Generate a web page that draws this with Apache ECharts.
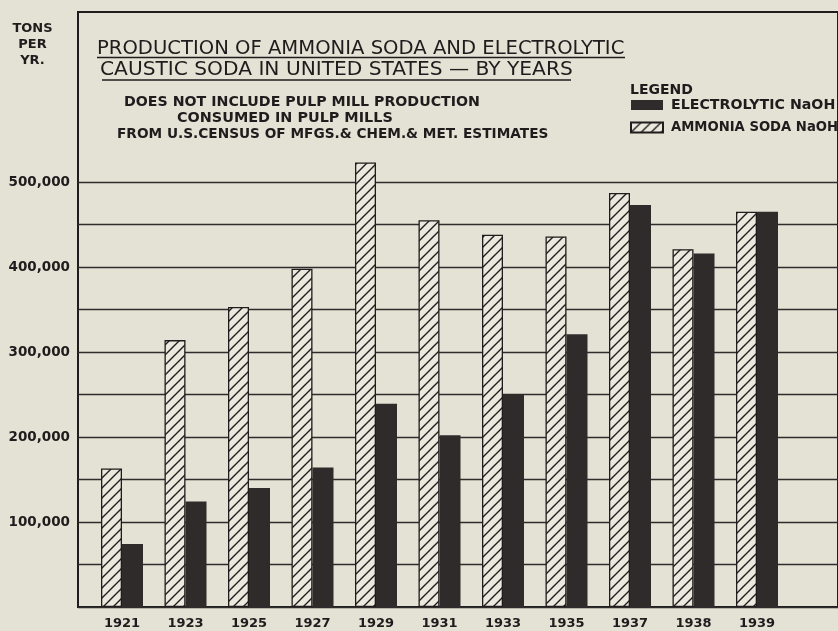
<!DOCTYPE html>
<html><head><meta charset="utf-8">
<script src="https://cdn.jsdelivr.net/npm/echarts@6/dist/echarts.min.js"></script>
<style>html,body{margin:0;padding:0;background:#e4e1d5}#c{width:838px;height:631px}</style>
</head><body><div id="c"></div>
<script>
// ---- data ----
const years = ['1921','1923','1925','1927','1929','1931','1933','1935','1937','1938','1939'];
const ammoniaSoda = [163000, 314000, 353000, 398000, 523000, 455000, 438000, 436000, 487000, 421000, 465000];
const electrolytic = [74000, 124000, 140000, 164000, 239000, 202000, 250000, 321000, 473000, 416000, 465000];
const yTickValues = [100000, 200000, 300000, 400000, 500000];
const yTickLabels = ['100,000', '200,000', '300,000', '400,000', '500,000'];
const seriesNames = ['AMMONIA SODA NaOH', 'ELECTROLYTIC NaOH'];

// ---- hatch pattern ----
function hatch() {
  const s = 10, c = document.createElement('canvas');
  c.width = s; c.height = s;
  const g = c.getContext('2d');
  g.fillStyle = '#ebe8de'; g.fillRect(0, 0, s, s);
  g.strokeStyle = '#1f1d1d'; g.lineWidth = 1.4;
  g.beginPath();
  g.moveTo(-1, s + 1); g.lineTo(s + 1, -1);
  g.moveTo(-1, 1); g.lineTo(1, -1);
  g.moveTo(s - 1, s + 1); g.lineTo(s + 1, s - 1);
  g.stroke();
  return c;
}
const ink = '#1e1c1c';
const F = 'DejaVu Sans';
const chart = echarts.init(document.getElementById('c'), null, {renderer: 'canvas'});
chart.setOption({
  backgroundColor: '#e4e1d5',
  animation: false,
  title: [
    {text: 'TONS\nPER\nYR.', left: 32.5, top: 21, padding: 0, textAlign: 'center',
     textStyle: {fontFamily: F, fontWeight: 'bold', fontSize: 13, lineHeight: 16, color: ink, align: 'center'}},
    {text: 'PRODUCTION OF AMMONIA SODA AND ELECTROLYTIC', left: 97, top: 39, padding: 0,
     textStyle: {fontFamily: F, fontWeight: 'normal', fontSize: 19.6, color: ink}},
    {text: 'CAUSTIC SODA IN UNITED STATES — BY YEARS', left: 100, top: 60, padding: 0,
     textStyle: {fontFamily: F, fontWeight: 'normal', fontSize: 20.2, color: ink}},
    {text: 'DOES NOT INCLUDE PULP MILL PRODUCTION', left: 124, top: 95, padding: 0,
     textStyle: {fontFamily: F, fontWeight: 'bold', fontSize: 14.2, color: ink}},
    {text: 'CONSUMED IN PULP MILLS', left: 177, top: 111, padding: 0,
     textStyle: {fontFamily: F, fontWeight: 'bold', fontSize: 14.4, color: ink}},
    {text: 'FROM U.S.CENSUS OF MFGS.& CHEM.& MET. ESTIMATES', left: 117, top: 127, padding: 0,
     textStyle: {fontFamily: F, fontWeight: 'bold', fontSize: 13.7, color: ink}},
    {text: 'LEGEND', left: 630, top: 83, padding: 0,
     textStyle: {fontFamily: F, fontWeight: 'bold', fontSize: 14, color: ink}}
  ],
  graphic: [
    {type: 'line', shape: {x1: 97, y1: 57.5, x2: 625, y2: 57.5}, style: {stroke: ink, lineWidth: 1.6}},
    {type: 'line', shape: {x1: 102, y1: 80, x2: 571, y2: 80}, style: {stroke: ink, lineWidth: 1.6}}
  ],
  legend: {
    data: [
      {name: seriesNames[1], textStyle: {fontSize: 14.2}},
      {name: seriesNames[0], textStyle: {fontSize: 13.2}}
    ],
    orient: 'vertical', left: 630, top: 98, padding: 0, itemWidth: 32, itemHeight: 10, itemGap: 9,
    icon: 'rect',
    textStyle: {fontFamily: F, fontWeight: 'bold', fontSize: 14, color: ink, padding: [0, 0, 0, 3]}
  },
  grid: [
    {left: 90.25, width: 698.5, top: 12, bottom: 24},
    {left: 78, right: -10, top: 182, bottom: 24},
    {left: 78, right: -10, top: 12, bottom: 24, show: true, borderColor: ink, borderWidth: 2}
  ],
  xAxis: [
    {type: 'category', gridIndex: 0, data: years, axisLine: {show: false}, axisTick: {show: false},
     axisLabel: {fontFamily: F, fontWeight: 'bold', fontSize: 13, color: ink, margin: 10}},
    {type: 'value', gridIndex: 1, show: false},
    {type: 'value', gridIndex: 2, show: false}
  ],
  yAxis: [
    {type: 'value', gridIndex: 0, min: 0, max: 700000, show: false},
    {type: 'value', gridIndex: 1, min: 0, max: 500000, interval: 50000,
     axisLine: {show: false}, axisTick: {show: false},
     splitLine: {lineStyle: {color: '#2e2c2c', width: 1.4}},
     axisLabel: {margin: 8, fontFamily: F, fontWeight: 'bold', fontSize: 13.5, color: ink,
       formatter: v => { const i = yTickValues.indexOf(v); return i >= 0 ? yTickLabels[i] : ''; }}},
    {type: 'value', gridIndex: 2, show: false}
  ],
  series: [
    {name: seriesNames[0], type: 'bar', xAxisIndex: 0, yAxisIndex: 0, data: ammoniaSoda,
     barWidth: 21, barGap: '0%', z: 5,
     itemStyle: {color: {image: hatch(), repeat: 'repeat'}, borderColor: ink, borderWidth: 1.3}},
    {name: seriesNames[1], type: 'bar', xAxisIndex: 0, yAxisIndex: 0, data: electrolytic,
     barWidth: 21, barGap: '0%', z: 5,
     itemStyle: {color: '#302b2b'}}
  ]
});
</script></body></html>
